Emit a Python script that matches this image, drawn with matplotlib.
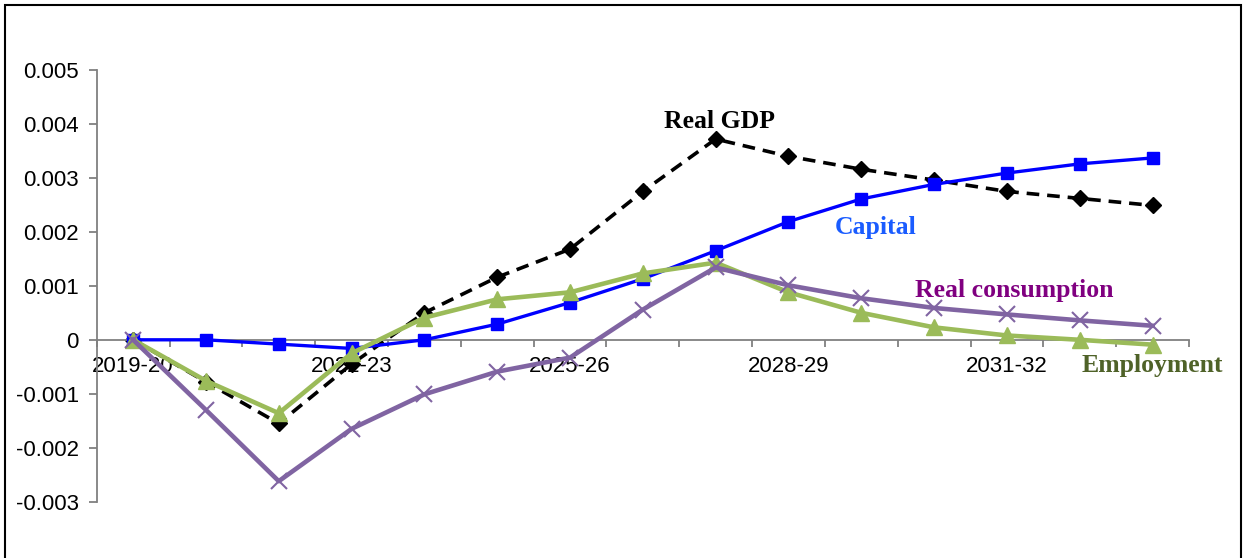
import matplotlib.pyplot as plt
from matplotlib.patches import Rectangle
import numpy as np

# подготовка данных
years = ['2019-20', '2020-21', '2021-22', '2022-23', '2023-24', '2024-25',
         '2025-26', '2026-27', '2027-28', '2028-29', '2029-30', '2030-31',
         '2031-32', '2032-33', '2033-34']
real_gdp = [0, -0.00078, -0.00155, -0.00045, 0.00050, 0.00116, 0.00168, 0.00275,
            0.00372, 0.00340, 0.00316, 0.00296, 0.00275, 0.00262, 0.00249]
capital = [0, 0.0, -0.00008, -0.00016, 0.0, 0.00029, 0.00069, 0.00113,
           0.00165, 0.00219, 0.00261, 0.00288, 0.00309, 0.00326, 0.00337]
real_cons = [0, -0.00130, -0.00262, -0.00165, -0.00101, -0.00059, -0.00033, 0.00056,
             0.00134, 0.00101, 0.00077, 0.00059, 0.00047, 0.00036, 0.00026]
employment = [0, -0.00076, -0.00136, -0.00025, 0.00041, 0.00075, 0.00088, 0.00123,
              0.00143, 0.00088, 0.00050, 0.00023, 0.00008, 0.0, -0.00009]
label_years = ['2019-20', '2022-23', '2025-26', '2028-29', '2031-32']
yticks = [-0.003, -0.002, -0.001, 0, 0.001, 0.002, 0.003, 0.004, 0.005]

fig = plt.figure(figsize=(12.48, 5.58), dpi=100)
ax = fig.add_axes([0.0775, 0.1009, 0.9527 - 0.0775, 0.8746 - 0.1009])
x = np.arange(len(years))

ax.plot(x, real_gdp, color='black', lw=2.6, ls=(0, (3.5, 2.2)), marker='D', ms=8.5, zorder=2)
ax.plot(x, capital, color='#0000ff', lw=2.4, marker='s', ms=9, zorder=3)
ax.plot(x, employment, color='#9bbb59', lw=3.3, marker='^', ms=11, zorder=4)
ax.plot(x, real_cons, color='#8064a2', lw=3.3, marker='x', ms=11, mew=1.5, zorder=5)

ax.set_xlim(-0.5, len(years) - 0.5)
ax.set_ylim(-0.003, 0.005)

# оси в стиле Excel
ax.spines[['top', 'right']].set_visible(False)
ax.spines['bottom'].set_position(('data', 0))
for s in ['left', 'bottom']:
    ax.spines[s].set_color('#808080')
    ax.spines[s].set_linewidth(1.3)

ax.set_yticks(yticks)
ax.set_yticklabels(['-0.003', '-0.002', '-0.001', '0', '0.001', '0.002', '0.003', '0.004', '0.005'])
ax.tick_params(axis='y', length=6, width=1.3, color='#808080', pad=7,
               labelsize=16, labelcolor='black')

ax.set_xticks(np.arange(len(years) + 1) - 0.5)
ax.set_xticklabels([])
ax.tick_params(axis='x', which='major', direction='out', length=5, width=1.3, color='#808080')
ax.set_xticks([years.index(y) for y in label_years], minor=True)
ax.set_xticklabels(label_years, minor=True)
ax.tick_params(axis='x', which='minor', length=0, pad=12, labelsize=16)

for t in ax.get_xticklabels(minor=True) + ax.get_yticklabels():
    t.set_fontfamily('Liberation Sans')

# подписи серий
lab = dict(fontfamily='Liberation Serif', fontweight='bold', fontsize=18.5, ha='center', va='center')
ax.text(8.05, 0.00405, 'Real GDP', color='black', **lab)
ax.text(10.2, 0.00208, 'Capital', color='#1a5cff', **lab)
ax.text(12.1, 0.00092, 'Real consumption', color='#800080', **lab)
ax.text(14.0, -0.00048, 'Employment', color='#4f6228', **lab)

# рамка
fig.add_artist(Rectangle((5 / 1248, -0.05), 1236 / 1248, 1.05 - 5 / 558,
                         transform=fig.transFigure, fill=False, ec='black', lw=1.5))

fig.savefig('out.png', dpi=100)
